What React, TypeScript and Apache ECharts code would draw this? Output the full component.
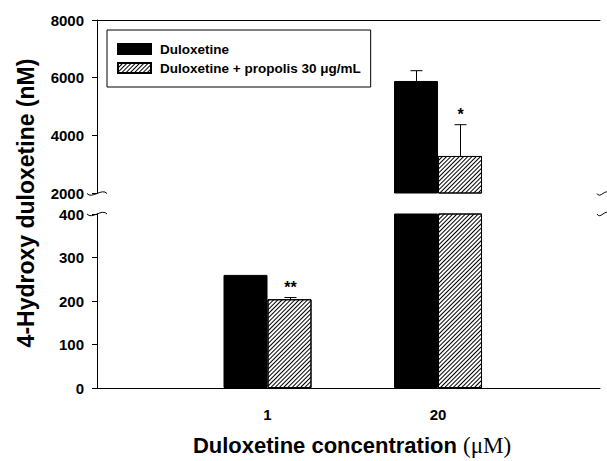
import React, { useEffect, useRef } from "react";
import * as echarts from "echarts";

const categories = ["1", "20"];
const catPos = [1, 2];
const duloxetine = [260, 5885];
const duloxetineSD = [0, 357];
const propolis = [204, 3284];
const propolisSD = [4, 1085];
const significance = ["**", "*"];
const seriesNames = ["Duloxetine", "Duloxetine + propolis 30 \u03bcg/mL"];
const upperRange = [2000, 8000];
const lowerRange = [0, 400];

const FONT = "'Liberation Sans', Arial, sans-serif";
const BAR_W = 44;

function App() {
  const ref = useRef<HTMLDivElement>(null);
  useEffect(() => {
    if (!ref.current) return;
    const chart = echarts.init(ref.current, null, { renderer: "svg" });

    const hatch = {
      symbol: "rect",
      symbolSize: 1,
      color: "#000",
      dashArrayX: [1, 0],
      dashArrayY: [1, 1.6],
      rotation: -Math.PI / 4,
    };

    const barData = (vals: number[], r: number[]) =>
      catPos.filter((_, i) => vals[i] > r[0]).map((x) => [x, vals[catPos.indexOf(x)]]);

    const errData = (r: number[]) => {
      const out: any[] = [];
      catPos.forEach((x, i) => {
        const a = duloxetine[i], sa = duloxetineSD[i];
        const b = propolis[i], sb = propolisSD[i];
        if (sa > 0 && a > r[0] && a + sa <= r[1] + 1) out.push([x, a, a + sa, -1, ""]);
        if (sb > 0 && b > r[0] && b + sb <= r[1] + 1) out.push([x, b, b + sb, 1, significance[i]]);
      });
      return out;
    };

    const errSeries = (gi: number, r: number[]) => ({
      type: "custom",
      xAxisIndex: gi,
      yAxisIndex: gi,
      data: errData(r),
      silent: true,
      z: 5,
      renderItem: (params: any, api: any) => {
        const x = api.value(0);
        const base = api.coord([x, api.value(1)]);
        const top = api.coord([x, api.value(2)]);
        const off = api.value(3) * (BAR_W / 2);
        const cx = Math.round(base[0] + off) + 0.5;
        const star = api.value(4);
        const children: any[] = [
          { type: "line", shape: { x1: cx, y1: base[1], x2: cx, y2: top[1] }, style: { stroke: "#000", lineWidth: 1 } },
          { type: "line", shape: { x1: cx - 6, y1: top[1], x2: cx + 6, y2: top[1] }, style: { stroke: "#000", lineWidth: 1 } },
        ];
        if (star) {
          children.push({
            type: "text",
            style: {
              text: star,
              x: cx,
              y: top[1] - 2,
              align: "center",
              verticalAlign: "bottom",
              font: "bold 16px " + FONT,
              fill: "#000",
            },
          });
        }
        return { type: "group", children };
      },
    });

    const xAxisBase = {
      type: "value",
      min: 0,
      max: 2.95,
      interval: 1,
      splitLine: { show: false },
      axisTick: { show: false },
      axisLine: { show: true, lineStyle: { color: "#000", width: 1 } },
    };

    const yAxisBase = {
      type: "value",
      splitLine: { show: false },
      axisTick: { show: true, length: 5, inside: false, lineStyle: { color: "#000" } },
      axisLine: { show: true, lineStyle: { color: "#000", width: 1 } },
      axisLabel: {
        fontFamily: FONT,
        fontWeight: "bold",
        fontSize: 15,
        color: "#000",
        margin: 13,
        formatter: (v: number) => String(v),
      },
    };

    const squiggle = (x: number, y: number, w: number) => ({
      type: "bezierCurve",
      shape: {
        x1: x - w / 2, y1: y,
        cpx1: x - w / 4, cpy1: y + 6,
        cpx2: x + w / 4, cpy2: y - 6,
        x2: x + w / 2, y2: y,
      },
      style: { stroke: "#000", lineWidth: 1, fill: null },
      z: 100,
    });

    const option: any = {
      animation: false,
      textStyle: { fontFamily: FONT },
      grid: [
        { left: 97, right: 7, top: 20, height: 173 },
        { left: 97, right: 7, top: 214, height: 174 },
      ],
      legend: {
        data: seriesNames,
        orient: "vertical",
        left: 107,
        top: 30,
        padding: [12, 10, 12, 10],
        itemGap: 5,
        itemWidth: 33,
        itemHeight: 10,
        borderColor: "#000",
        borderWidth: 1,
        icon: "rect",
        textStyle: { fontFamily: FONT, fontWeight: "bold", fontSize: 13.5, color: "#000", padding: [0, 0, 0, 4] },
      },
      xAxis: [
        { ...xAxisBase, gridIndex: 0, position: "top", axisLabel: { show: false } },
        {
          ...xAxisBase,
          gridIndex: 1,
          position: "bottom",
          axisLabel: {
            show: true,
            margin: 19,
            fontFamily: FONT,
            fontWeight: "bold",
            fontSize: 15,
            color: "#000",
            formatter: (v: number) => {
              const i = catPos.indexOf(v);
              return i >= 0 ? categories[i] : "";
            },
          },
        },
      ],
      yAxis: [
        { ...yAxisBase, gridIndex: 0, min: upperRange[0], max: upperRange[1], interval: 2000 },
        { ...yAxisBase, gridIndex: 1, min: lowerRange[0], max: lowerRange[1], interval: 100 },
      ],
      series: [
        {
          name: seriesNames[0], type: "bar", xAxisIndex: 0, yAxisIndex: 0,
          barWidth: BAR_W, barGap: "0%",
          data: barData(duloxetine, upperRange),
          itemStyle: { color: "#000", borderColor: "#000", borderWidth: 1 },
        },
        {
          name: seriesNames[1], type: "bar", xAxisIndex: 0, yAxisIndex: 0,
          barWidth: BAR_W, barGap: "0%",
          data: barData(propolis, upperRange),
          itemStyle: { color: "#fff", borderColor: "#000", borderWidth: 1, decal: hatch },
        },
        {
          name: seriesNames[0], type: "bar", xAxisIndex: 1, yAxisIndex: 1,
          barWidth: BAR_W, barGap: "0%", clip: true,
          data: catPos.map((x, i) => [x, duloxetine[i]]),
          itemStyle: { color: "#000", borderColor: "#000", borderWidth: 1 },
        },
        {
          name: seriesNames[1], type: "bar", xAxisIndex: 1, yAxisIndex: 1,
          barWidth: BAR_W, barGap: "0%", clip: true,
          data: catPos.map((x, i) => [x, propolis[i]]),
          itemStyle: { color: "#fff", borderColor: "#000", borderWidth: 1, decal: hatch },
        },
        errSeries(0, upperRange),
        errSeries(1, lowerRange),
      ],
      graphic: [
        squiggle(97, 193.5, 20),
        squiggle(97, 214, 20),
        squiggle(603, 193.5, 12),
        squiggle(603, 214, 12),
        {
          type: "text",
          x: 26,
          y: 203,
          rotation: Math.PI / 2,
          style: {
            text: "4-Hydroxy duloxetine (nM)",
            font: "bold 23px " + FONT,
            fill: "#000",
            align: "center",
            verticalAlign: "middle",
          },
        },
        {
          type: "text",
          x: 352,
          y: 445,
          style: {
            text: "{a|Duloxetine concentration }{b|(\u03bcM)}",
            align: "center",
            verticalAlign: "middle",
            rich: {
              a: { font: "bold 22px " + FONT, fill: "#000" },
              b: { font: "23px 'Liberation Serif', 'Times New Roman', serif", fill: "#000" },
            },
          },
        },
      ],
    };

    chart.setOption(option);
    return () => chart.dispose();
  }, []);

  return (
    <div
      ref={ref}
      style={{ position: "absolute", left: 0, top: 0, width: 607, height: 461, background: "#fff" }}
    />
  );
}

export default App;
